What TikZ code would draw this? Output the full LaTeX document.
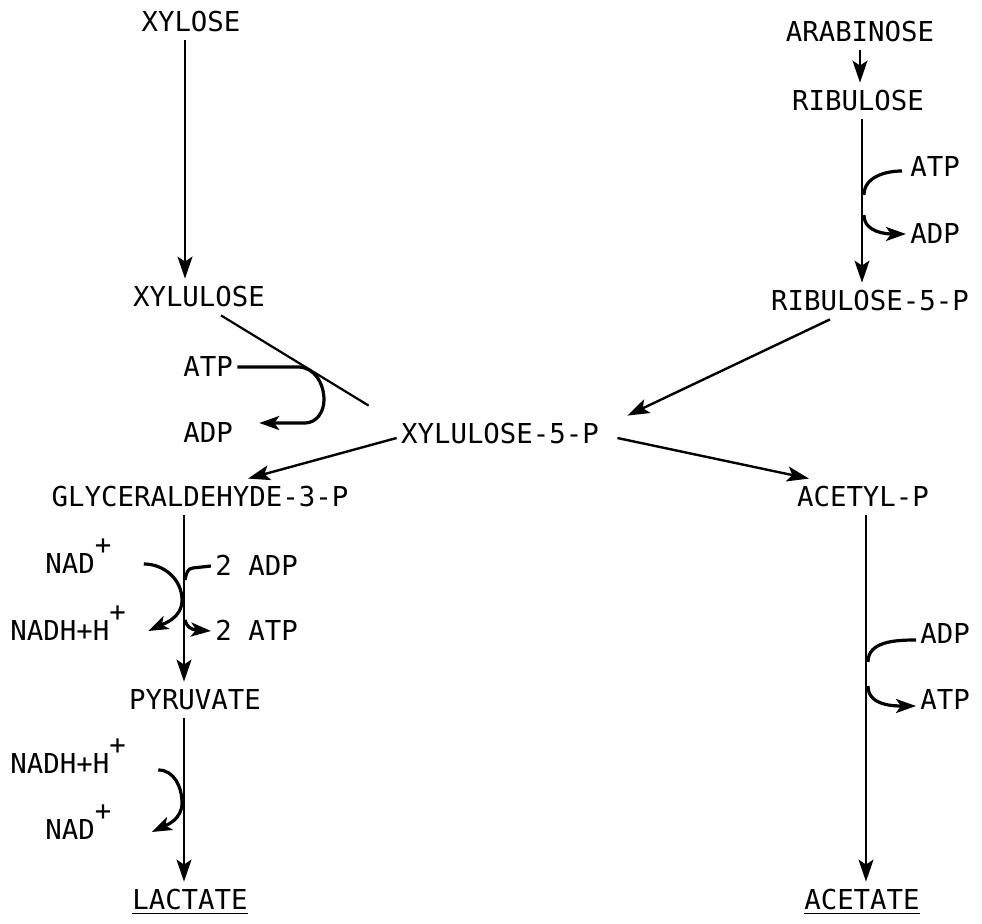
\documentclass[tikz,border=0pt]{standalone}
\usepackage{fontspec}
\setmainfont{DejaVu Sans Mono}
\usetikzlibrary{arrows.meta}
\newcommand\ionplus{\raisebox{1.3ex}{+}}
\begin{document}
\begin{tikzpicture}[x=0.5pt,y=-0.5pt,
    met/.style={inner xsep=2pt,inner ysep=4pt,text height=10pt,text depth=0pt,
      font=\fontsize{13.7}{16}\selectfont},
    cof/.style={met,anchor=west},
    rxn/.style={line width=1pt,-{Stealth[length=11pt,width=7.5pt,inset=2.5pt]}},
    side/.style={line width=1.6pt,-{Stealth[length=10pt,width=7pt,inset=2.5pt]}}]
  \useasboundingbox (0,0) rectangle (982,924);
  % metabolites
  \node[met] (xyl) at (191,22) {XYLOSE};
  \node[met] (ara) at (860,32) {ARABINOSE};
  \node[met] (rib) at (858,101) {RIBULOSE};
  \node[met] (xlu) at (199,297) {XYLULOSE};
  \node[met] (rib5p) at (870,301) {RIBULOSE-5-P};
  \node[met] (x5p) at (500,434) {XYLULOSE-5-P};
  \node[met] (gap) at (200,497) {GLYCERALDEHYDE-3-P};
  \node[met] (acp) at (863,497) {ACETYL-P};
  \node[met] (pyr) at (195,700) {PYRUVATE};
  \node[met] (lac) at (190,900) {\underline{LACTATE}};
  \node[met] (ace) at (862,900) {\underline{ACETATE}};
  % cofactors
  \node[cof] (atpL) at (179,367) {ATP};
  \node[cof] (adpL) at (179,433) {ADP};
  \node[cof] (atpR) at (906,167) {ATP};
  \node[cof] (adpR) at (906,234) {ADP};
  \node[cof] (nadA) at (41,564) {NAD\ionplus};
  \node[cof] (adp2) at (211,566) {2 ADP};
  \node[cof] (nadhA) at (6,631) {NADH+H\ionplus};
  \node[cof] (atp2) at (211,631) {2 ATP};
  \node[cof] (nadhB) at (6,764) {NADH+H\ionplus};
  \node[cof] (nadB) at (41,830) {NAD\ionplus};
  \node[cof] (adpR2) at (916,634) {ADP};
  \node[cof] (atpR2) at (916,700) {ATP};
  % main steps
  \draw[rxn] ([xshift=-3pt]xyl.south) -- ([xshift=-3pt]xyl.south |- xlu.north);
  \draw[rxn] (ara.south) -- (ara.south |- rib.north);
  \draw[rxn] ([xshift=2pt]rib.south) -- ([xshift=2pt]rib.south |- rib5p.north);
  \draw[line width=1.1pt] ([xshift=11pt]xlu.south) -- ([xshift=-14pt,yshift=5pt]x5p.north west);
  \draw[rxn,line width=1.2pt] ([xshift=-20pt]rib5p.south) -- ([xshift=12pt]x5p.north east);
  \draw[rxn,line width=1.2pt] ([yshift=-2pt]x5p.west) -- ([xshift=24pt]gap.north);
  \draw[rxn,line width=1.2pt] ([xshift=7pt,yshift=-2pt]x5p.east) -- ([xshift=-27pt]acp.north);
  \draw[rxn] ([xshift=-8pt]gap.south) -- ([xshift=-8pt]gap.south |- pyr.north);
  \draw[rxn] ([xshift=-5.5pt]pyr.south) -- ([xshift=-5.5pt]pyr.south |- lac.north);
  \draw[rxn] ([xshift=1.5pt]acp.south) -- ([xshift=1.5pt]acp.south |- ace.north);
  % side reactions
  \draw[side] (atpL.east) -- (298,367) to[out=0,in=90] (324,400)
    to[out=-90,in=0] (305,423) -- ([xshift=11pt,yshift=5pt]adpL.east);
  \draw[line width=1.6pt] ([xshift=-2pt,yshift=-2pt]atpR.west) to[out=180,in=90] (864,195);
  \draw[side] (864,215) to[out=-90,in=180] (adpR.west);
  \draw[side] ([xshift=14pt]nadA.east) to[out=0,in=90] (182,600)
    to[out=-90,in=25] ([xshift=9pt]nadhA.east);
  \draw[line width=1.6pt] (adp2.west) -- (193,568) to[out=180,in=80] (185,580);
  \draw[side] (185,620) to[out=-80,in=180] (197,630) -- (atp2.west);
  \draw[side] ([xshift=14pt,yshift=-3pt]nadhB.east) to[out=0,in=90] (182,803)
    to[out=-90,in=25] ([xshift=18pt,yshift=-1pt]nadB.east);
  \draw[line width=1.6pt] ([yshift=-3pt]adpR2.west) to[out=180,in=90] (868,662);
  \draw[side] (868,686) to[out=-90,in=180] ([yshift=-3pt]atpR2.west);
\end{tikzpicture}
\end{document}
